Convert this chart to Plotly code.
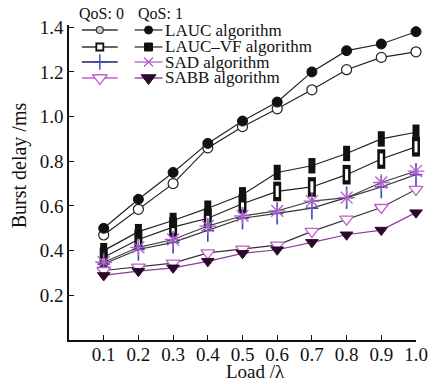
import plotly.graph_objects as go

load = [0.1, 0.2, 0.3, 0.4, 0.5, 0.6, 0.7, 0.8, 0.9, 1.0]

lauc_q0 = [0.47, 0.585, 0.70, 0.86, 0.955, 1.035, 1.12, 1.21, 1.265, 1.29]
lauc_q1 = [0.50, 0.63, 0.75, 0.88, 0.98, 1.065, 1.20, 1.295, 1.325, 1.38]
laucvf_q0 = [0.37, 0.45, 0.505, 0.545, 0.61, 0.665, 0.685, 0.74, 0.81, 0.865]
laucvf_q1 = [0.40, 0.485, 0.535, 0.59, 0.65, 0.75, 0.78, 0.835, 0.90, 0.93]
sad_q0 = [0.34, 0.405, 0.437, 0.49, 0.545, 0.567, 0.59, 0.637, 0.685, 0.74]
sad_q1 = [0.348, 0.415, 0.45, 0.51, 0.556, 0.578, 0.622, 0.637, 0.705, 0.756]
sabb_q0 = [0.311, 0.326, 0.344, 0.39, 0.407, 0.425, 0.486, 0.541, 0.593, 0.674]
sabb_q1 = [0.289, 0.308, 0.323, 0.352, 0.388, 0.404, 0.437, 0.471, 0.492, 0.57]

names = ["LAUC algorithm", "LAUC\u2013VF algorithm", "SAD algorithm", "SABB algorithm"]
x_ticks = [0.1, 0.2, 0.3, 0.4, 0.5, 0.6, 0.7, 0.8, 0.9, 1.0]
y_ticks = [0.2, 0.4, 0.6, 0.8, 1.0, 1.2, 1.4]

FONT = "Liberation Serif"

# plot area in pixels
L, R, T, B = 69, 418, 25, 340
W, H = 440, 384


def px(xp):
    return (xp - L) / (R - L)


def py(yp):
    return (B - yp) / (B - T)


# line colors
line_q0 = ["#222222", "#222222", "#333333", "#333333"]
line_q1 = ["#222222", "#222222", "#444444", "#8a3a9a"]

# marker layers (drawn in order) for each series in the plot
marks_q0 = [
    [dict(symbol="circle", size=10, color="white", line=dict(color="#222222", width=1.2))],
    [dict(symbol="line-ns", size=14, color="#111111", line=dict(color="#111111", width=8)),
     dict(symbol="line-ns", size=8, color="white", line=dict(color="white", width=3))],
    [dict(symbol="line-ns", size=16, color="#3a48b0", line=dict(color="#3a48b0", width=1.6)),
     dict(symbol="line-ew", size=9, color="#3a48b0", line=dict(color="#3a48b0", width=1.6))],
    [dict(symbol="triangle-down", size=12, color="white", line=dict(color="#c060c8", width=1.3))],
]
marks_q1 = [
    [dict(symbol="circle", size=10, color="#111111", line=dict(color="#111111", width=1))],
    [dict(symbol="line-ns", size=11, color="#111111", line=dict(color="#111111", width=7))],
    [dict(symbol="asterisk-open", size=14, color="#b060c8", line=dict(color="#b060c8", width=1.3))],
    [dict(symbol="triangle-down", size=11, color="#2a0a2a", line=dict(color="#2a0a2a", width=1))],
]

# legend key markers
leg_mk0 = [
    dict(symbol="circle", size=7, color="#cccccc", line=dict(color="#333333", width=1.2)),
    dict(symbol="square", size=7, color="white", line=dict(color="#111111", width=1.8)),
    dict(symbol="cross-thin-open", size=11, color="#3a48b0", line=dict(color="#3a48b0", width=1.4)),
    dict(symbol="triangle-down", size=13, color="white", line=dict(color="#c060c8", width=1.3)),
]
leg_mk1 = [
    dict(symbol="circle", size=8, color="#111111", line=dict(color="#111111", width=1)),
    dict(symbol="square", size=8, color="#111111", line=dict(color="#111111", width=1)),
    dict(symbol="x-thin-open", size=9, color="#b060c8", line=dict(color="#b060c8", width=1.3)),
    dict(symbol="triangle-down", size=13, color="#2a0a2a", line=dict(color="#2a0a2a", width=1)),
]

fig = go.Figure()
series_q0 = [lauc_q0, laucvf_q0, sad_q0, sabb_q0]
series_q1 = [lauc_q1, laucvf_q1, sad_q1, sabb_q1]
for i in range(4):
    for ys, lc, layers in ((series_q0[i], line_q0[i], marks_q0[i]), (series_q1[i], line_q1[i], marks_q1[i])):
        fig.add_trace(go.Scatter(x=load, y=ys, mode="lines", line=dict(color=lc, width=1.2),
                                 showlegend=False, cliponaxis=False, hoverinfo="skip"))
        for mk in layers:
            fig.add_trace(go.Scatter(x=load, y=ys, mode="markers", marker=mk,
                                     showlegend=False, cliponaxis=False))

# custom legend on a hidden pixel-like overlay axis
leg_rows = [30, 47, 62, 78]
seg0 = [82, 118]
seg1 = [135, 163]
leg_line0 = ["#333333", "#333333", "#222266", "#c060c8"]
leg_line1 = ["#333333", "#333333", "#b060c8", "#8a3a9a"]
for i in range(4):
    yrow = leg_rows[i]
    for seg, lc, mk in ((seg0, leg_line0[i], leg_mk0[i]), (seg1, leg_line1[i], leg_mk1[i])):
        fig.add_trace(go.Scatter(x=seg, y=[yrow, yrow], mode="lines", line=dict(color=lc, width=1.3),
                                 xaxis="x2", yaxis="y2", showlegend=False, cliponaxis=False,
                                 hoverinfo="skip"))
        fig.add_trace(go.Scatter(x=[(seg[0] + seg[1]) / 2], y=[yrow], mode="markers", marker=mk,
                                 xaxis="x2", yaxis="y2", showlegend=False, cliponaxis=False,
                                 hoverinfo="skip"))
    fig.add_annotation(x=px(164), y=py(yrow), xref="paper", yref="paper", text=names[i], showarrow=False,
                       xanchor="left", yanchor="middle", font=dict(family=FONT, size=17, color="#111"))

fig.add_annotation(x=px(77), y=py(14), xref="paper", yref="paper", text="QoS: 0", showarrow=False,
                   xanchor="left", yanchor="middle", font=dict(family=FONT, size=16, color="#111"))
fig.add_annotation(x=px(136), y=py(14), xref="paper", yref="paper", text="QoS: 1", showarrow=False,
                   xanchor="left", yanchor="middle", font=dict(family=FONT, size=16, color="#111"))

# axis titles
fig.add_annotation(x=px(19), y=py(165), xref="paper", yref="paper", text="Burst delay /ms", showarrow=False,
                   textangle=-90, xanchor="center", yanchor="middle",
                   font=dict(family=FONT, size=20, color="#111"))
fig.add_annotation(x=px(257), y=py(384), xref="paper", yref="paper", text="Load /\u03bb", showarrow=False,
                   xanchor="center", yanchor="bottom",
                   font=dict(family=FONT, size=19, color="#111"))

fig.update_layout(
    width=W, height=H,
    margin=dict(l=L, r=W - R, t=T, b=H - B),
    paper_bgcolor="white", plot_bgcolor="white",
    font=dict(family=FONT, size=19, color="#111"),
    xaxis=dict(range=[0, 1.0], tickvals=x_ticks, ticktext=[f"{v:.1f}" for v in x_ticks],
               ticks="inside", ticklen=5, tickcolor="#111", showline=True, linecolor="#111",
               linewidth=1.5, showgrid=False, zeroline=False, ticklabelstandoff=-4),
    yaxis=dict(range=[0, 1.41], tickvals=y_ticks, ticktext=[f"{v:.1f}" for v in y_ticks],
               ticks="inside", ticklen=5, tickcolor="#111", showline=True, linecolor="#111",
               linewidth=1.5, showgrid=False, zeroline=False),
    xaxis2=dict(overlaying="x", range=[L, R], visible=False, anchor="y2"),
    yaxis2=dict(overlaying="y", range=[B, T], visible=False, anchor="x2"),
)

fig.write_html("out.html", config={"displayModeBar": False},
               post_script="document.body.style.margin='0';document.body.style.overflow='hidden';")
